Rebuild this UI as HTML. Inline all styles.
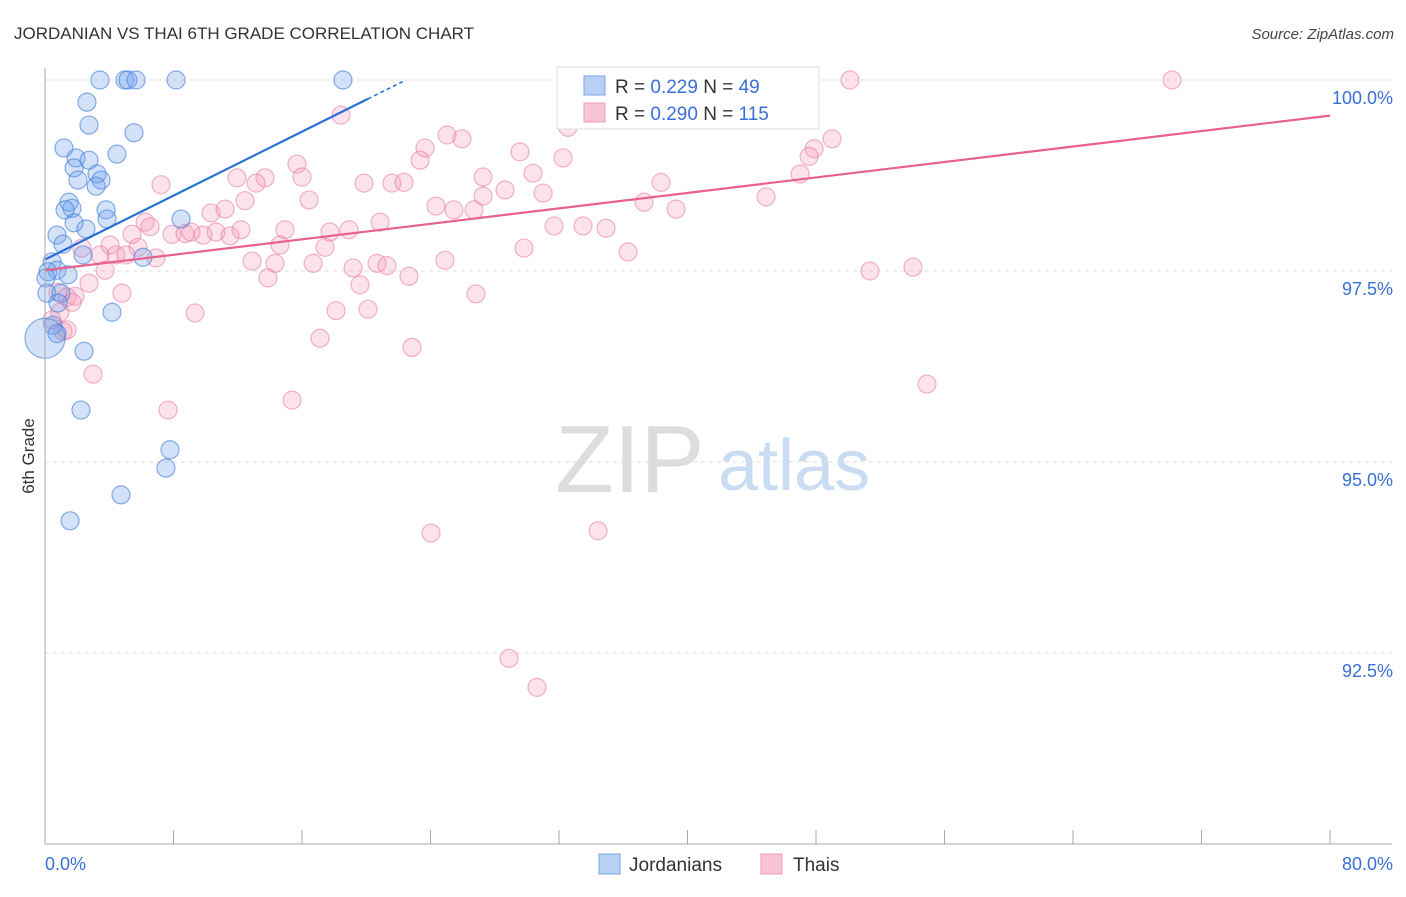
<!DOCTYPE html>
<html><head><meta charset="utf-8"><style>
body{margin:0;background:#fff;font-family:"Liberation Sans",sans-serif;}
svg text{font-family:"Liberation Sans",sans-serif;}
</style></head><body>
<svg id="chart" width="1406" height="892" xmlns="http://www.w3.org/2000/svg">
<text x="14" y="39" font-size="17" fill="#333">JORDANIAN VS THAI 6TH GRADE CORRELATION CHART</text>
<text x="1394" y="39" font-size="15" fill="#444" text-anchor="end" font-style="italic">Source: ZipAtlas.com</text>
<text transform="translate(34,456) rotate(-90)" font-size="17" fill="#333" text-anchor="middle">6th Grade</text>
<g>
<text x="555" y="492" font-size="96" fill="#ddd" font-family="Liberation Serif,serif">ZIP</text>
<text x="718" y="490" font-size="72" fill="#c9dcf2">atlas</text>
</g>
<g id="grid"></g><g id="pts"></g><g id="lines"></g><g id="axes"></g>
<g>
<rect x="557" y="67" width="262" height="62" fill="#fff" stroke="#ddd"/>
<rect x="584" y="76" width="21" height="19" fill="#b8d0f3" stroke="#7aa4e4"/>
<rect x="584" y="103" width="21" height="19" fill="#f8c5d5" stroke="#ee9ab4"/>
<text x="615" y="93" font-size="19" fill="#333">R = <tspan fill="#3a6fd8">0.229</tspan>   N =  <tspan fill="#3a6fd8">49</tspan></text>
<text x="615" y="120" font-size="19" fill="#333">R = <tspan fill="#3a6fd8">0.290</tspan>   N = <tspan fill="#3a6fd8">115</tspan></text>
</g>
<g>
<rect x="599" y="854" width="21" height="20" fill="#b8d0f3" stroke="#7aa4e4"/>
<text x="629" y="871" font-size="19" fill="#333">Jordanians</text>
<rect x="761" y="854" width="21" height="20" fill="#f8c5d5" stroke="#ee9ab4"/>
<text x="793" y="871" font-size="19" fill="#333">Thais</text>
</g>
</svg>
<script>
const blueX=[3.42,4.98,5.17,5.67,8.16,18.55,2.61,2.74,5.54,1.18,4.48,1.93,2.74,1.81,3.24,2.05,3.49,3.18,1.49,1.68,1.25,3.80,3.86,8.47,1.81,2.55,0.75,1.12,0.44,2.37,6.10,0.75,0.19,1.43,0.06,0.12,1.00,0.81,4.17,0.50,0.75,0,2.43,2.24,7.78,7.53,4.73,1.56];
const blueY=[100,100,100,100,100,100,99.71,99.41,99.31,99.11,99.03,98.98,98.95,98.85,98.77,98.69,98.69,98.61,98.40,98.32,98.30,98.30,98.18,98.18,98.13,98.05,97.97,97.85,97.62,97.71,97.68,97.51,97.49,97.45,97.41,97.21,97.21,97.08,96.96,96.79,96.68,96.62,96.45,95.68,95.16,94.92,94.57,94.23];
const pinkX=[32.81,39.54,41.59,50.12,70.17,33.00,36.48,40.16,18.43,32.56,25.03,25.96,23.66,29.57,32.25,23.35,15.69,49.00,47.88,47.57,11.95,13.70,16.00,7.22,13.14,19.86,21.60,22.35,27.27,30.38,38.35,47.01,28.64,31.01,27.27,16.44,12.45,37.29,44.89,24.34,25.46,26.71,39.29,10.34,11.21,20.86,6.23,6.54,14.94,18.93,17.74,7.91,8.72,9.09,10.65,9.84,11.52,12.20,31.69,33.50,34.93,5.42,4.05,5.79,2.30,14.63,17.43,29.82,36.30,3.42,4.42,5.04,6.91,12.89,14.32,16.69,20.67,21.29,24.90,19.18,3.74,51.36,54.04,13.88,22.66,2.74,19.61,4.79,26.83,0.81,1.37,1.87,1.68,9.34,18.12,20.11,0.93,0.44,17.12,1.12,1.37,22.85,2.99,54.91,15.38,7.66,24.03,34.43,28.89,30.63];
const pinkY=[100,100,100,100,100,99.74,99.63,99.78,99.54,99.38,99.28,99.23,99.11,99.06,98.98,98.95,98.90,99.23,99.10,99.00,98.72,98.72,98.73,98.63,98.65,98.65,98.65,98.66,98.73,98.78,98.66,98.77,98.56,98.52,98.48,98.43,98.42,98.40,98.47,98.35,98.30,98.30,98.31,98.26,98.31,98.14,98.14,98.08,98.04,98.04,98.01,97.98,97.99,98.01,98.01,97.97,97.96,98.04,98.09,98.09,98.06,97.98,97.84,97.81,97.80,97.84,97.81,97.80,97.75,97.71,97.71,97.71,97.67,97.63,97.60,97.60,97.60,97.57,97.64,97.54,97.51,97.50,97.55,97.41,97.43,97.34,97.32,97.21,97.20,97.22,97.16,97.17,97.09,96.95,96.98,97.00,96.96,96.86,96.62,96.71,96.73,96.50,96.15,96.02,95.81,95.68,94.07,94.10,92.43,92.05];
const blueTrend=[97.65,0.1046];
const pinkTrend=[97.51,0.0253];
const yTicks=[100,97.5,95,92.5];
const xTickCount=10;
const NS="http://www.w3.org/2000/svg";
const sx=v=>45+v/80*1285;
const sy=v=>80+(100-v)/2.5*191;
function mk(tag,attrs,parent){const e=document.createElementNS(NS,tag);for(const k in attrs)e.setAttribute(k,attrs[k]);parent.appendChild(e);return e;}
const grid=document.getElementById('grid'),axes=document.getElementById('axes'),pts=document.getElementById('pts'),lines=document.getElementById('lines');
yTicks.forEach(t=>{
 const l=mk('line',{x1:45,x2:1392,y1:sy(t),y2:sy(t),stroke:'#ddd','stroke-dasharray':'4,4'},grid);
 
 
 const tx=mk('text',{x:1393,y:sy(t)+24,'font-size':18,fill:'#3a6fd8','text-anchor':'end'},axes);
 tx.textContent=t.toFixed(1)+'%';
 
 
});
let a=mk('line',{x1:45,x2:45,y1:68,y2:844,stroke:'#aaa'},axes);


a=mk('line',{x1:45,x2:1392,y1:844,y2:844,stroke:'#aaa'},axes);


for(let i=0;i<=xTickCount;i++){
 const t=mk('line',{x1:sx(i*8),x2:sx(i*8),y1:830,y2:844,stroke:'#aaa'},axes);
 
 
}
let xl=mk('text',{x:45,y:870,'font-size':18,fill:'#3a6fd8'},axes);xl.textContent='0.0%';


xl=mk('text',{x:1393,y:870,'font-size':18,fill:'#3a6fd8','text-anchor':'end'},axes);xl.textContent='80.0%';


pinkX.forEach((x,i)=>{
 const c=mk('circle',{cx:sx(x),cy:sy(pinkY[i]),r:9,fill:'rgba(244,150,180,0.28)',stroke:'rgba(232,120,155,0.55)','stroke-width':1.2},pts);
 
 
});
blueX.forEach((x,i)=>{
 const c=mk('circle',{cx:sx(x),cy:sy(blueY[i]),r:x===0?20:9,fill:'rgba(110,160,235,0.3)',stroke:'rgba(70,130,220,0.65)','stroke-width':1.2},pts);
 
 
});
let tl=mk('line',{x1:sx(0),y1:sy(blueTrend[0]),x2:sx(20.1),y2:sy(blueTrend[0]+blueTrend[1]*20.1),stroke:'#2a6fd8','stroke-width':2.2},lines);


tl=mk('line',{x1:sx(20.1),y1:sy(blueTrend[0]+blueTrend[1]*20.1),x2:sx(22.3),y2:sy(blueTrend[0]+blueTrend[1]*22.3),stroke:'#2a6fd8','stroke-width':1.5,'stroke-dasharray':'4,3'},lines);


tl=mk('line',{x1:sx(0),y1:sy(pinkTrend[0]),x2:sx(80),y2:sy(pinkTrend[0]+pinkTrend[1]*80),stroke:'#e8608e','stroke-width':2.2},lines);


</script>
</body></html>
